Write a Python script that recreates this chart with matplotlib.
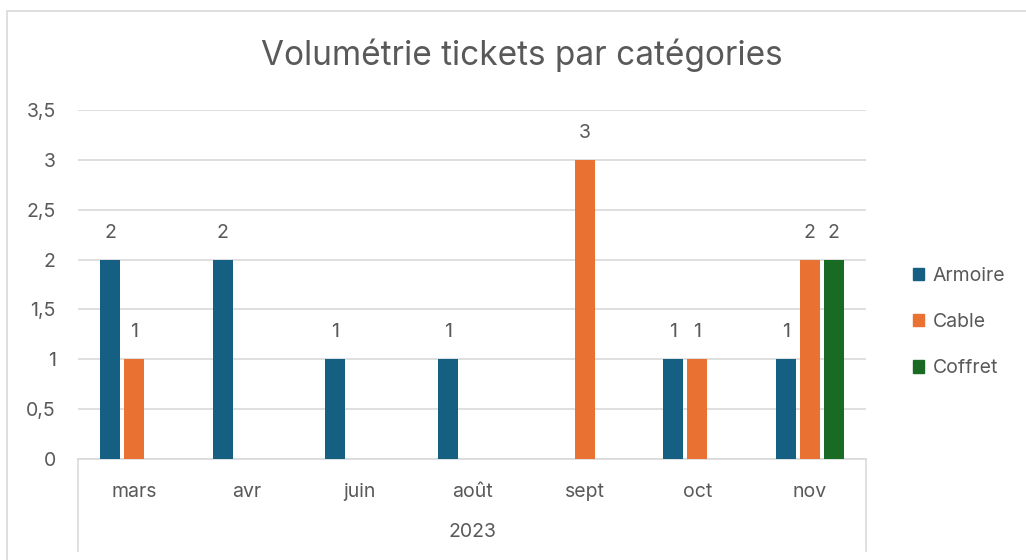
import matplotlib
matplotlib.use("Agg")
import matplotlib.pyplot as plt
import numpy as np
from matplotlib.lines import Line2D
from matplotlib.patches import Rectangle, Patch

plt.rcParams['font.family'] = ['Inter', 'DejaVu Sans']

months = ['mars', 'avr', 'juin', 'août', 'sept', 'oct', 'nov']
year = '2023'
series = ['Armoire', 'Cable', 'Coffret']
armoire = [2, 2, 1, 1, 0, 1, 1]
cable = [1, 0, 0, 0, 3, 1, 2]
coffret = [0, 0, 0, 0, 0, 0, 2]
yticks = [0, 0.5, 1, 1.5, 2, 2.5, 3, 3.5]

colors = ['#156082', '#E97132', '#196B24']
grey = '#595959'
W, H = 1026, 560

fig = plt.figure(figsize=(W / 100, H / 100), dpi=100)
ax = fig.add_axes([78 / W, 101 / H, 788 / W, 349 / H])

x = np.arange(len(months))
width = 0.178
step = 0.213
for i, (name, vals) in enumerate(zip(series, [armoire, cable, coffret])):
    pos = x + (i - 1) * step
    ax.bar(pos, vals, width=width, color=colors[i], label=name, zorder=3)
    for p, v in zip(pos, vals):
        if v:
            ax.annotate(str(v), (p, v), xytext=(0, 13), textcoords='offset points',
                        ha='center', va='bottom', fontsize=14, color=grey)

ax.set_xlim(-0.5, len(months) - 0.5)
ax.set_ylim(0, 3.5)
ax.set_yticks(yticks)
ax.set_yticklabels([('%g' % t).replace('.', ',') for t in yticks])
ax.set_xticks(x)
ax.set_xticklabels(months)
ax.tick_params(axis='y', length=0, pad=16, labelsize=14, labelcolor=grey)
ax.tick_params(axis='x', length=0, pad=17, labelsize=14, labelcolor=grey)
ax.grid(axis='y', color='#D9D9D9', linewidth=1.2, zorder=0)
for s in ['top', 'right', 'left']:
    ax.spines[s].set_visible(False)
ax.spines['bottom'].set_color('#D9D9D9')
ax.spines['bottom'].set_linewidth(1.2)

# category axis box
for px in (78, 866):
    fig.add_artist(Line2D([px / W, px / W], [(H - 459) / H, (H - 551) / H],
                          color='#D9D9D9', linewidth=1.2))
fig.text(472 / W, (H - 532) / H, year, ha='center', va='center', fontsize=14, color=grey)

# chart border
fig.add_artist(Rectangle((7 / W, -0.1), 1.2, (H - 11) / H + 0.1, fill=False,
                         edgecolor='#D9D9D9', linewidth=1.2))

fig.text(522 / W, (H - 55) / H, 'Volumétrie tickets par catégories',
         ha='center', va='center', fontsize=24, color=grey)

handles = [Patch(color=c) for c in colors]
fig.legend(handles, series, loc='center left', bbox_to_anchor=(895 / W, (H - 322) / H),
           frameon=False, fontsize=14, labelcolor=grey, handlelength=0.6,
           handleheight=0.6, handletextpad=0.45, labelspacing=1.45)

fig.savefig('out.png', dpi=100)
